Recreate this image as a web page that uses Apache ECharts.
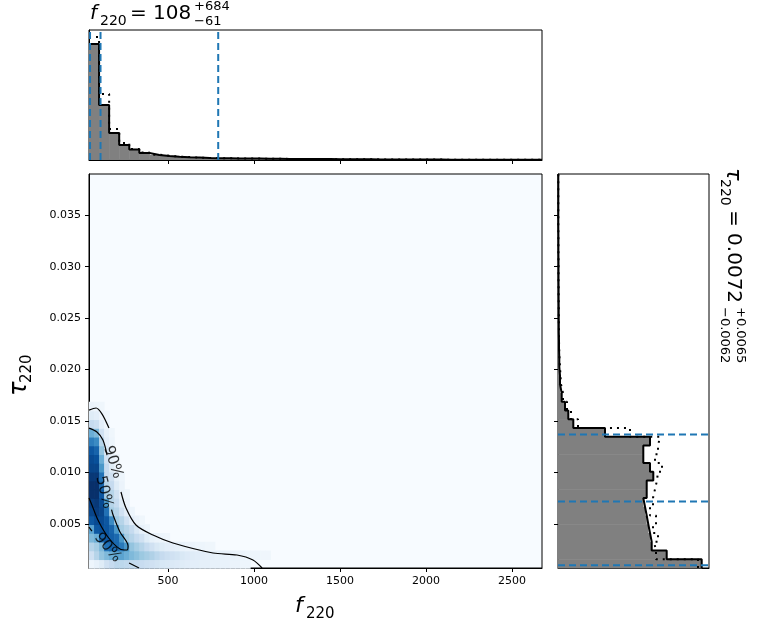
<!DOCTYPE html>
<html><head><meta charset="utf-8">
<script src="https://cdn.jsdelivr.net/npm/echarts@6/dist/echarts.min.js"></script>
<style>body{margin:0}#c{width:757px;height:635px}</style></head>
<body><div id="c"></div>
<script>
// f220 range and binning
var xMin = 41, xMax = 2674, xBin = 58.5;
var yMin = 0.00073, yMax = 0.039, yBin = 0.00085;

// top histogram (f220), solid and dotted
var fHist = [116,55,27,15,10.5,7,5,4,3.3,2.8,2.4,2,1.8,1.7,1.6,1.5,1.4,1.3,1.2,1.1,1,1,0.9,0.9,0.8,0.8,0.7,0.7,0.6,0.6,0.5,0.5,0.4,0.4,0.4,0.3,0.3,0.3,0.3,0.2,0.2,0.2,0.2,0.2,0.2];
var fHistDot = [123,66,31,17,11,7.5,5.3,4.2,3.4,2.9,2.4,2.1,1.9,1.7,1.6,1.5,1.4,1.3,1.2,1.1,1,1,0.9,0.9,0.8,0.8,0.7,0.7,0.6,0.6,0.5,0.5,0.4,0.4,0.4,0.3,0.3,0.3,0.3,0.2,0.2,0.2,0.2,0.2,0.2];
var fLines = [47, 108, 792];

// right histogram (tau220), bottom bin first
var tHist = [143.7,108.7,93.7,92,90.3,88.7,87,85.3,88.7,88.7,95.3,92,85.3,85.3,92,47,15.3,10.3,7,3.7,2,2,1.3,1.3,1,1,0.8,0.8,0.7,0.7,0.6,0.6,0.5,0.5,0.5,0.4,0.4,0.4,0.3,0.3,0.3,0.3,0.3,0.3,0.3];
var tHistDot = [140,98,96,100,95,98,92,95,97,99,100,104,97,100,102,72,20,13,9,5,3,2.5,2,1.5,1.2,1,1,0.8,0.8,0.7,0.6,0.6,0.5,0.5,0.5,0.4,0.4,0.4,0.3,0.3,0.3,0.3,0.3,0.3,0.3];
var tLines = [0.0010, 0.0072, 0.0137];

// 2D density: rows of tau bins (yBin), cols of f bins (width hx)
var hx = 29.25;
var density = [
  [0.05,0.08,0.12,0.2,0.25,0.28,0.28,0.27,0.26,0.25,0.24,0.22,0.2,0.18,0.16,0.15,0.14,0.13,0.12,0.11,0.1,0.1,0.09,0.09,0.08,0.08,0.07,0.07,0.06,0.06,0.05,0.05],
  [0.2,0.3,0.4,0.45,0.5,0.55,0.55,0.5,0.45,0.42,0.38,0.35,0.32,0.28,0.25,0.22,0.2,0.18,0.15,0.13,0.12,0.11,0.1,0.09,0.09,0.08,0.08,0.07,0.07,0.06,0.06,0.05,0.05,0.05,0.04,0.04],
  [0.3,0.35,0.45,0.75,0.8,0.78,0.72,0.6,0.4,0.35,0.3,0.25,0.2,0.15,0.12,0.1,0.09,0.08,0.07,0.06,0.06,0.05,0.05,0.04,0.04],
  [0.45,0.5,0.8,0.85,0.82,0.78,0.6,0.35,0.3,0.25,0.2,0.12,0.08,0.06,0.05,0.04],
  [0.55,0.85,0.88,0.86,0.8,0.6,0.35,0.3,0.25,0.15,0.08,0.05],
  [0.85,0.9,0.9,0.85,0.65,0.35,0.3,0.2,0.1,0.06,0.04],
  [0.92,0.95,0.92,0.75,0.35,0.3,0.2,0.1,0.05],
  [0.95,0.97,0.9,0.6,0.3,0.25,0.12,0.06],
  [1,1,0.85,0.35,0.3,0.2,0.08,0.05],
  [1,1,0.8,0.3,0.25,0.12,0.06],
  [0.97,0.97,0.75,0.25,0.2,0.08,0.05],
  [0.92,0.92,0.6,0.25,0.12,0.06],
  [0.9,0.88,0.5,0.2,0.08,0.05],
  [0.85,0.8,0.4,0.15,0.06],
  [0.7,0.65,0.3,0.1,0.05],
  [0.5,0.45,0.2,0.08,0.04],
  [0.25,0.22,0.1,0.05],
  [0.12,0.1,0.06,0.04],
  [0.06,0.05,0.04]
];

// contours
var c90a = [[41,0.01607],[82,0.01627],[117,0.01568],[157,0.01432]];
var c90b = [[227,0.00811],[256,0.00656],[314,0.00491],[413,0.00393],[529,0.00316],[762,0.00219],[901,0.00199],[994,0.00151],[1047,0.00073]];
var c90c = [[41,0.00471],[58,0.00432]];
var c90d = [[274,0.00122],[332,0.00073]];
var c50a = [[146,0.0117],[122,0.01316],[87,0.01394],[41,0.01432]];
var c50b = [[172,0.0064],[181,0.00588],[221,0.00423],[268,0.00287],[262,0.00248],[221,0.00258],[151,0.00374],[93,0.00539],[58,0.00685],[41,0.00753]];
var cLabels = [[180,0.0110,'90%',-72],[128,0.0081,'50%',-76],[150,0.0027,'90%',-50]];

function steps(vals, lo, w, vertical) {
  var pts = [];
  vals.forEach(function (v, i) {
    var a = lo + i * w, b = lo + (i + 1) * w;
    if (vertical) { pts.push([v, a], [v, b]); } else { pts.push([a, v], [b, v]); }
  });
  return pts;
}
var cells = [];
density.forEach(function (row, r) {
  row.forEach(function (v, c) { cells.push([xMin + c * hx, yMin + r * yBin, v]); });
});

var blues = ['#f7fbff','#deebf7','#c6dbef','#9ecae1','#6baed6','#4292c6','#2171b5','#08519c','#08306b'];
var axisLine = {lineStyle: {color: '#000'}};
var tickStyle = {lineStyle: {color: '#000'}};
var font = 'DejaVu Sans';
var myChart = echarts.init(document.getElementById('c'));
var dash = {color: '#1f77b4', type: [7, 4], width: 2};
function contour(d) {
  return {type: 'line', data: d, xAxisIndex: 0, yAxisIndex: 0, symbol: 'none', smooth: 0.3,
    lineStyle: {color: '#000', width: 1.2}, z: 5};
}
function dashed(d, xi) {
  return {type: 'line', data: d, xAxisIndex: xi, yAxisIndex: xi, symbol: 'none', lineStyle: dash, z: 6};
}
var xt = [500, 1000, 1500, 2000, 2500];
var yt = [0.005, 0.01, 0.015, 0.02, 0.025, 0.03, 0.035];

var series = [
  {type: 'custom', xAxisIndex: 0, yAxisIndex: 0, data: cells, z: 1,
    renderItem: function (params, api) {
      var p = api.coord([api.value(0), api.value(1) + yBin]);
      var s = api.size([hx, yBin]);
      return {type: 'rect', shape: {x: p[0], y: p[1], width: s[0] + 0.6, height: s[1] + 0.8},
        style: {fill: api.visual('color')}};
    }},
  contour(c90a), contour(c90b), contour(c90c), contour(c90d), contour(c50a), contour(c50b),
  {type: 'scatter', xAxisIndex: 0, yAxisIndex: 0, symbolSize: 0, z: 6,
    data: cLabels.map(function (l) { return {value: [l[0], l[1]], label: {formatter: l[2], rotate: l[3]}}; }),
    label: {show: true, position: 'inside', color: '#000', fontSize: 15, fontFamily: font}},
  // top histogram
  {type: 'custom', xAxisIndex: 1, yAxisIndex: 1, data: fHist.map(function (v, i) { return [xMin + i * xBin, v]; }),
    renderItem: function (params, api) {
      var p = api.coord([api.value(0), api.value(1)]);
      var s = api.size([xBin, api.value(1)]);
      return {type: 'rect', shape: {x: p[0], y: p[1], width: s[0] + 0.5, height: s[1]}, style: {fill: '#808080'}};
    }},
  {type: 'line', xAxisIndex: 1, yAxisIndex: 1, data: steps(fHist, xMin, xBin, false), symbol: 'none',
    lineStyle: {color: '#000', width: 2}, z: 4},
  {type: 'line', xAxisIndex: 1, yAxisIndex: 1, data: steps(fHistDot, xMin, xBin, false), symbol: 'none',
    lineStyle: {color: '#000', width: 2, type: [2, 5]}, z: 3},
  // right histogram
  {type: 'custom', xAxisIndex: 2, yAxisIndex: 2, data: tHist.map(function (v, i) { return [v, yMin + i * yBin]; }),
    renderItem: function (params, api) {
      var p = api.coord([0, api.value(1) + yBin]);
      var s = api.size([api.value(0), yBin]);
      return {type: 'rect', shape: {x: p[0], y: p[1], width: s[0], height: s[1] + 0.6}, style: {fill: '#808080'}};
    }},
  {type: 'line', xAxisIndex: 2, yAxisIndex: 2, data: steps(tHist, yMin, yBin, true), symbol: 'none',
    lineStyle: {color: '#000', width: 2}, z: 4},
  {type: 'line', xAxisIndex: 2, yAxisIndex: 2, data: steps(tHistDot, yMin, yBin, true), symbol: 'none',
    lineStyle: {color: '#000', width: 2, type: [2, 5]}, z: 3}
];
fLines.forEach(function (v) { series.push(dashed([[v, 0], [v, 130]], 1)); });
tLines.forEach(function (v) { series.push(dashed([[0, v], [151, v]], 2)); });

option = {
  animation: false,
  backgroundColor: '#fff',
  grid: [
    {left: 89, top: 174, width: 453, height: 394, show: true, backgroundColor: '#f7fbff', borderColor: '#000'},
    {left: 89, top: 30, width: 453, height: 130, show: true, borderColor: '#000'},
    {left: 558, top: 174, width: 151, height: 394, show: true, borderColor: '#000'}
  ],
  xAxis: [
    {gridIndex: 0, type: 'value', min: xMin, max: xMax, splitLine: {show: false}, axisLine: axisLine,
      axisTick: {customValues: xt, lineStyle: tickStyle.lineStyle, length: 4},
      axisLabel: {customValues: xt, color: '#000', fontSize: 11, fontFamily: font, formatter: function (v) { return String(v); }}},
    {gridIndex: 1, type: 'value', min: xMin, max: xMax, splitLine: {show: false}, axisLine: axisLine,
      axisTick: {customValues: xt, lineStyle: tickStyle.lineStyle, length: 4}, axisLabel: {show: false}},
    {gridIndex: 2, type: 'value', min: 0, max: 151, splitLine: {show: false}, axisLine: axisLine,
      axisTick: {show: false}, axisLabel: {show: false}}
  ],
  yAxis: [
    {gridIndex: 0, type: 'value', min: yMin, max: yMax, splitLine: {show: false}, axisLine: axisLine,
      axisTick: {customValues: yt, lineStyle: tickStyle.lineStyle, length: 4},
      axisLabel: {customValues: yt, color: '#000', fontSize: 11, fontFamily: font,
        formatter: function (v) { return v.toFixed(3); }}},
    {gridIndex: 1, type: 'value', min: 0, max: 130, splitLine: {show: false}, axisLine: axisLine,
      axisTick: {show: false}, axisLabel: {show: false}},
    {gridIndex: 2, type: 'value', min: yMin, max: yMax, splitLine: {show: false}, axisLine: axisLine,
      axisTick: {customValues: yt, lineStyle: tickStyle.lineStyle, length: 4}, axisLabel: {show: false}}
  ],
  visualMap: {show: false, min: 0, max: 1, dimension: 2, seriesIndex: 0, inRange: {color: blues}},
  series: series,
  graphic: [
    {type: 'text', left: 90, top: 4, style: {text: 'f', font: 'italic 20px DejaVu Sans', fill: '#000'}},
    {type: 'text', left: 100, top: 14, style: {text: '220', font: '14px DejaVu Sans', fill: '#000'}},
    {type: 'text', left: 130, top: 4, style: {text: '= 108', font: '20px DejaVu Sans', fill: '#000'}},
    {type: 'text', left: 194, top: 0, style: {text: '+684', font: '13px DejaVu Sans', fill: '#000'}},
    {type: 'text', left: 194, top: 15, style: {text: '\u221261', font: '13px DejaVu Sans', fill: '#000'}},
    {type: 'text', left: 295, top: 595, style: {text: 'f', font: 'italic 22px DejaVu Sans', fill: '#000'}},
    {type: 'text', left: 306, top: 607, style: {text: '220', font: '15px DejaVu Sans', fill: '#000'}},
    {type: 'group', x: 8, y: 396, rotation: Math.PI / 2, children: [
      {type: 'text', x: 0, y: 0, style: {text: '\u03c4', font: 'italic 24px DejaVu Sans', fill: '#000'}},
      {type: 'text', x: 13, y: 12, style: {text: '220', font: '15px DejaVu Sans', fill: '#000'}}
    ]},
    {type: 'group', x: 743, y: 168, rotation: -Math.PI / 2, children: [
      {type: 'text', x: 0, y: 0, style: {text: '\u03c4', font: 'italic 21px DejaVu Sans', fill: '#000'}},
      {type: 'text', x: 11, y: 11, style: {text: '220', font: '14px DejaVu Sans', fill: '#000'}},
      {type: 'text', x: 42, y: 0, style: {text: '= 0.0072', font: '20px DejaVu Sans', fill: '#000'}},
      {type: 'text', x: 139, y: -4, style: {text: '+0.0065', font: '13px DejaVu Sans', fill: '#000'}},
      {type: 'text', x: 139, y: 12, style: {text: '\u22120.0062', font: '13px DejaVu Sans', fill: '#000'}}
    ]}
  ]
};
myChart.setOption(option, true);
</script></body></html>
